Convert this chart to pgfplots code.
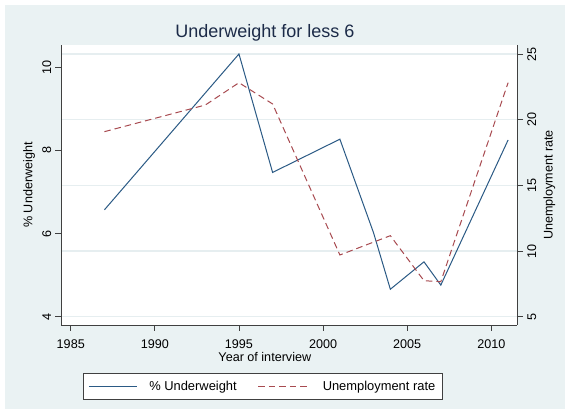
\documentclass[border=0pt]{standalone}
\usepackage{pgfplots}
\pgfplotsset{compat=1.18}
\usepackage{fontspec}
\setmainfont{Liberation Sans}
\definecolor{bgcol}{HTML}{EAF2F3}
\definecolor{gridcol}{HTML}{E6EEF0}
\definecolor{navyc}{HTML}{2B5A85}
\definecolor{maroonc}{HTML}{A84A50}
\definecolor{axcol}{HTML}{404040}
\definecolor{titlec}{HTML}{1C2B48}
\newcommand{\lab}{\fontsize{12.6}{14}\selectfont}
\newcommand{\leglab}{\fontsize{12.9}{14}\selectfont}

\pgfplotsset{
  leg48/.style={legend image code/.code={\draw[##1] (0pt,0pt) -- (48pt,0pt);}},
  leg52/.style={legend image code/.code={\draw[##1] (0pt,0pt) -- (52pt,0pt);}},
}

\pgfplotstableread{
year uw
1987 6.57
1995 10.32
1997 7.47
2001 8.27
2003 6.02
2004 4.66
2006 5.32
2007 4.76
2011 8.25
}\uwtable

\pgfplotstableread{
year ur
1987 19.09
1993 21.12
1995 22.82
1997 21.20
2001 9.70
2004 11.17
2006 7.74
2007 7.67
2011 22.82
}\urtable

\begin{document}
\begin{tikzpicture}
\path[use as bounding box] (0,0) rectangle (570pt,414pt);
\fill[bgcol] (5pt,5pt) rectangle (565pt,409pt);

\pgfplotsset{
  base/.style={
    at={(61pt,89pt)}, anchor=south west,
    scale only axis, width=456pt, height=280pt,
    xmin=1984.42, xmax=2011.53,
    axis line style={-, draw=axcol, line width=0.8pt},
    tick align=outside, major tick length=6pt,
    tick style={draw=axcol, line width=0.8pt},
    /pgf/number format/assume math mode=true,
    ticklabel style={font=\lab},
    label style={font=\lab},
    clip=true,
  }
}

% right axis: background and grid
\begin{axis}[base,
  ymin=4.37, ymax=25.69,
  axis x line=none, axis y line*=right,
  ytick={5,10,15,20,25},
  yticklabels={},
  major tick length=0pt,
  ymajorgrids, major grid style={draw=gridcol, line width=1.3pt},
  axis background/.style={fill=white},
]
\end{axis}

% left axis: % Underweight
\begin{axis}[base,
  ymin=3.80, ymax=10.536,
  axis x line*=bottom, axis y line*=left,
  xtick={1985,1990,...,2010}, ytick={4,6,8,10},
  xticklabel style={/pgf/number format/1000 sep={}, anchor=base, yshift=-17.5pt},
  yticklabel style={xshift=-4pt, rotate=90, anchor=base},
  xlabel={Year of interview},
  xlabel style={at={(axis description cs:0.447,-0.131)}, anchor=base},
  ylabel={\% Underweight},
  ylabel style={at={(axis description cs:-0.0625,0.5)}, anchor=base},
  title={Underweight for less 6},
  title style={at={(axis description cs:0.447,1.0286)}, anchor=base, yshift=-7pt, font=\fontsize{18}{20}\selectfont, text=titlec},
]
\addplot[navyc, line width=1pt] table[x=year, y=uw] {\uwtable};
\end{axis}

% right axis: Unemployment rate
\begin{axis}[base,
  ymin=4.37, ymax=25.69,
  axis x line=none, axis y line*=right,
  ytick={5,10,15,20,25},
  yticklabel style={xshift=13pt, rotate=90, anchor=base},
  ylabel={Unemployment rate},
  ylabel style={at={(axis description cs:1.0779,0.5)}, anchor=base},
  legend columns=2,
  legend style={at={(axis description cs:0.0482,-0.1704)}, anchor=north west,
    draw=axcol, line width=0.6pt, fill=white, font=\leglab,
    inner xsep=5pt, inner ysep=5.8pt,
    /tikz/every odd column/.append style={column sep=10pt},
    /tikz/every even column/.append style={column sep=19pt},
  },
  legend cell align=left,
]
\addlegendimage{navyc, line width=1pt, leg48}
\addlegendentry{\% Underweight}
\addplot[maroonc, line width=1pt, dash pattern=on 6.5pt off 4pt, leg52] table[x=year, y=ur] {\urtable};
\addlegendentry{Unemployment rate}
\end{axis}
\end{tikzpicture}
\end{document}
